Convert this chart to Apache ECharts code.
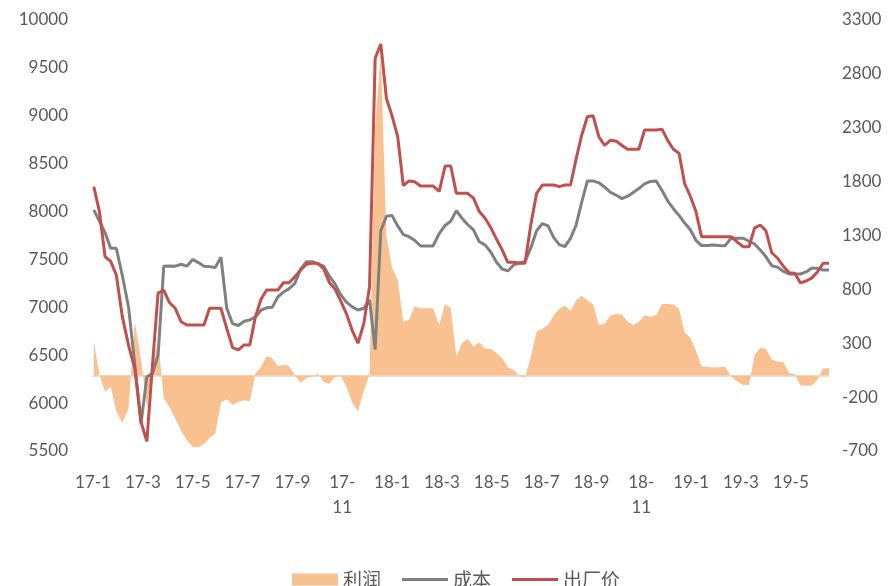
<!DOCTYPE html>
<html>
<head>
<meta charset="utf-8">
<script src="https://cdn.jsdelivr.net/npm/echarts@6/dist/echarts.min.js"></script>
<style>
  html, body { margin: 0; padding: 0; background: #fff; }
  #chart { width: 892px; height: 586px; }
</style>
</head>
<body>
<div id="chart"></div>
<script>
// Weekly observations, first week starting 2017-01-02
const startDate = '2017-01-02';

// 出厂价 (left axis)
const price = [
  8260, 8000, 7530, 7480, 7338, 6900, 6600, 6360, 5800, 5600,
  6400, 7150, 7180, 7050, 6990, 6850, 6816, 6816, 6816, 6816,
  6990, 6990, 6990, 6780, 6580, 6555, 6607, 6607, 6900, 7085,
  7181, 7181, 7181, 7257, 7257, 7320, 7390, 7450, 7460, 7460,
  7400, 7260, 7190, 7070, 6935, 6760, 6625, 6830, 7216, 9600,
  9750, 9180, 9000, 8782, 8270, 8320, 8312, 8267, 8267, 8267,
  8210, 8476, 8476, 8190, 8190, 8190, 8140, 8000, 7930, 7830,
  7710, 7600, 7470, 7470, 7460, 7460, 7860, 8190, 8277, 8277,
  8277, 8260, 8277, 8277, 8550, 8800, 8990, 9001, 8780, 8690,
  8745, 8735, 8690, 8650, 8650, 8650, 8852, 8852, 8852, 8860,
  8740, 8650, 8608, 8290, 8160, 8000, 7738, 7738, 7738, 7738,
  7738, 7738, 7680, 7633, 7633, 7830, 7860, 7800, 7570, 7515,
  7430, 7360, 7355, 7255, 7275, 7305, 7370, 7460, 7460
];

// 成本 (left axis)
const cost = [
  8016, 7900, 7780, 7617, 7617, 7330, 7000, 6400, 5790, 6276,
  6310, 6500, 7428, 7432, 7430, 7450, 7430, 7500, 7467, 7430,
  7425, 7415, 7522, 6990, 6830, 6810, 6855, 6868, 6900, 6970,
  6995, 7000, 7110, 7160, 7195, 7250, 7400, 7477, 7477, 7450,
  7430, 7325, 7245, 7135, 7055, 7005, 6972, 6990, 7077, 6560,
  7800, 7950, 7960, 7850, 7760, 7738, 7700, 7640, 7640, 7640,
  7770, 7855, 7900, 8010, 7930, 7865, 7808, 7685, 7652, 7575,
  7470, 7400, 7380, 7440, 7465, 7477, 7620, 7800, 7875, 7850,
  7730, 7655, 7633, 7720, 7860, 8100, 8320, 8320, 8300, 8255,
  8200, 8170, 8135, 8160, 8200, 8240, 8290, 8315, 8320, 8220,
  8110, 8030, 7960, 7880, 7810, 7700, 7645, 7645, 7650, 7645,
  7642, 7721, 7721, 7721, 7690, 7661, 7599, 7530, 7435, 7420,
  7375, 7348, 7348, 7348, 7370, 7408, 7408, 7390, 7390
];

// 利润 (right axis)
const profit = [
  314, 10, -150, -103, -330, -440, -300, 500, 150, -300,
  100, 320, -210, -290, -400, -510, -600, -660, -665, -635,
  -580, -540, -250, -220, -270, -245, -227, -240, 20, 80,
  180, 160, 85, 105, 85, 5, -70, -20, -10, 20,
  -60, -75, -10, -5, -100, -250, -330, -140, 5, 2300,
  2990, 1290, 1000, 890, 500, 515, 640, 624, 624, 624,
  470, 665, 624, 175, 300, 340, 270, 310, 250, 250,
  210, 160, 75, 55, -5, -16, 170, 410, 435, 470,
  555, 620, 650, 600, 700, 740, 700, 660, 470, 480,
  560, 570, 570, 500, 470, 500, 560, 545, 560, 665,
  665, 660, 620, 400, 350, 230, 82, 82, 75, 78,
  82, -10, -55, -88, -88, 190, 255, 250, 150, 129,
  125, 21, 15, -92, -95, -92, -40, 67, 67
];

// Axis ranges and tick steps
const leftAxis = { min: 5500, max: 10000, step: 500 };
const rightAxis = { min: -700, max: 3300, step: 500 };

// Position of a date on the month axis (months since 2017-01-01, fractional)
function monthPos(d) {
  const y = d.getUTCFullYear(), m = d.getUTCMonth(), day = d.getUTCDate();
  const dim = new Date(Date.UTC(y, m + 1, 0)).getUTCDate();
  return (y - 2017) * 12 + m + (day - 1) / dim;
}
const t0 = Date.parse(startDate + 'T00:00:00Z');
const xs = price.map((_, i) => monthPos(new Date(t0 + i * 7 * 86400000)));
const xMax = xs[xs.length - 1];

const pair = arr => arr.map((v, i) => [xs[i], v]);

function monthLabel(v) {
  const r = Math.round(v);
  if (Math.abs(v - r) > 1e-6 || r % 2 !== 0) return '';
  const yr = 17 + Math.floor(r / 12);
  const mo = (r % 12) + 1;
  return mo >= 10 ? yr + '-\n' + mo : yr + '-' + mo;
}
const plainNumber = v => String(v);

const textColor = '#595959';
const font = 'Lato, "Noto Sans", sans-serif';
const cjkFont = '"Noto Sans CJK SC", "Noto Sans", sans-serif';

const chart = echarts.init(document.getElementById('chart'), null, { renderer: 'canvas' });
chart.setOption({
  animation: false,
  backgroundColor: '#fff',
  grid: { left: 93, right: 63, top: 20, bottom: 135, containLabel: false },
  legend: {
    left: 287,
    top: 565,
    itemWidth: 46,
    itemHeight: 12,
    itemGap: 21,
    symbolKeepAspect: true,
    textStyle: { color: textColor, fontSize: 19, fontFamily: cjkFont },
    data: [
      { name: '利润', icon: 'rect' },
      { name: '成本', icon: 'path://M0,0 L46,0 L46,3 L0,3 Z' },
      { name: '出厂价', icon: 'path://M0,0 L46,0 L46,3 L0,3 Z' }
    ]
  },
  xAxis: {
    type: 'value',
    min: 0,
    max: xMax,
    interval: 2,
    splitLine: { show: false },
    axisTick: { show: false },
    axisLine: { show: true, lineStyle: { color: '#D9D9D9', width: 1.5 } },
    axisLabel: {
      color: textColor,
      fontSize: 17,
      fontFamily: font,
      margin: 19,
      lineHeight: 25,
      showMaxLabel: false,
      formatter: monthLabel
    }
  },
  yAxis: [
    {
      type: 'value',
      min: leftAxis.min,
      max: leftAxis.max,
      interval: leftAxis.step,
      splitLine: { show: false },
      axisTick: { show: false },
      axisLine: { show: false },
      axisLabel: { color: textColor, fontSize: 17, fontFamily: font, margin: 25, formatter: plainNumber }
    },
    {
      type: 'value',
      min: rightAxis.min,
      max: rightAxis.max,
      interval: rightAxis.step,
      splitLine: { show: false },
      axisTick: { show: false },
      axisLine: { show: false },
      axisLabel: { color: textColor, fontSize: 17, fontFamily: font, margin: 13, formatter: plainNumber }
    }
  ],
  series: [
    {
      name: '利润',
      type: 'line',
      yAxisIndex: 1,
      data: pair(profit),
      symbol: 'none',
      lineStyle: { width: 0, color: '#F9C18F' },
      itemStyle: { color: '#F9C18F' },
      areaStyle: { color: '#F9C18F', opacity: 1, origin: 0 },
      z: 1
    },
    {
      name: '成本',
      type: 'line',
      yAxisIndex: 0,
      data: pair(cost),
      symbol: 'none',
      lineStyle: { width: 3, color: '#808080' },
      itemStyle: { color: '#808080' },
      z: 2
    },
    {
      name: '出厂价',
      type: 'line',
      yAxisIndex: 0,
      data: pair(price),
      symbol: 'none',
      lineStyle: { width: 3, color: '#C0504D' },
      itemStyle: { color: '#C0504D' },
      z: 3
    }
  ]
});
</script>
</body>
</html>
